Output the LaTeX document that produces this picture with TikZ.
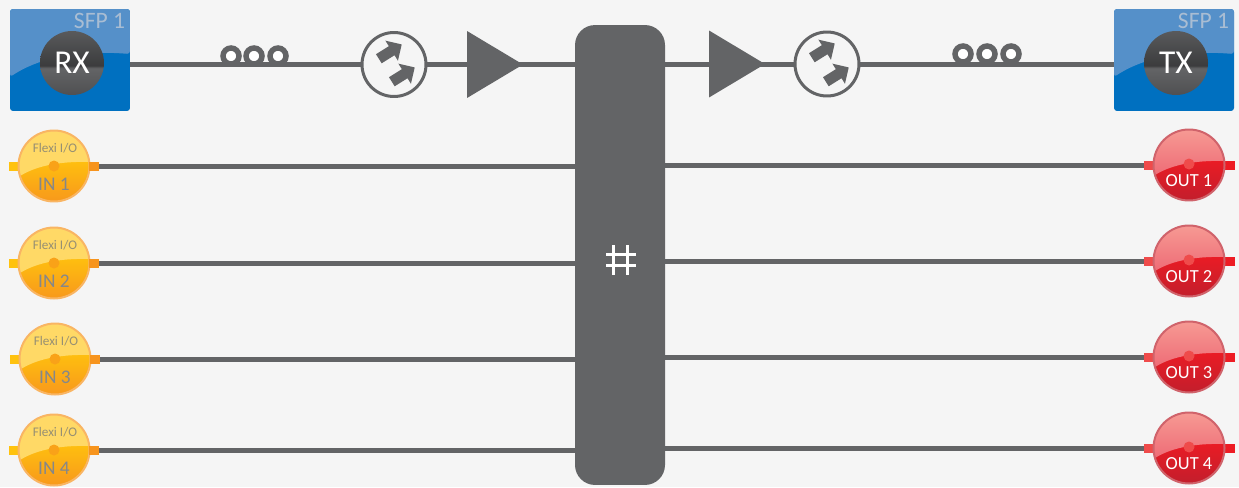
\documentclass[tikz,border=0pt]{standalone}
\usepackage{fontspec}
\setmainfont{Carlito}
\usetikzlibrary{calc, shapes.geometric, shapes.arrows}

\definecolor{pagegray}{HTML}{F5F5F5}
\definecolor{linegray}{HTML}{636466}
\definecolor{sfplight}{HTML}{5590C9}
\definecolor{sfpblue}{HTML}{0070C0}
\definecolor{sfptext}{HTML}{A9BDD3}
\definecolor{inyellow}{HTML}{FFD966}
\definecolor{inamber}{HTML}{FFC20E}
\definecolor{inorange}{HTML}{F7941D}
\definecolor{inrim}{HTML}{F9B563}
\definecolor{intext}{HTML}{85878A}
\definecolor{flexitext}{HTML}{968F73}
\definecolor{outpink}{HTML}{F79E96}
\definecolor{outrose}{HTML}{EE6A75}
\definecolor{outred}{HTML}{ED1C24}
\definecolor{outdark}{HTML}{BE1E2D}
\definecolor{outrim}{HTML}{D0636B}
\definecolor{outtab}{HTML}{EF4B4B}

\pgfdeclareverticalshading{discshade}{100bp}{color(0bp)=(linegray!80!black);
  color(25bp)=(linegray!80!black); color(46bp)=(linegray);
  color(48bp)=(linegray!60!black); color(75bp)=(linegray!90!black); color(100bp)=(linegray!90!black)}

\tikzset{
  every node/.append style = {outer sep=0},
  wire/.style = {draw=linegray, line width=0.1cm},
  sfpbox/.style = {rectangle, rounded corners=0.06cm, fill=sfpblue, inner sep=0,
    minimum width=2.4cm, minimum height=2.04cm,
    path picture = {\begin{scope}[shift={(path picture bounding box.center)}]
      \fill[sfplight] (-60,17) .. controls (-30,-3) and (10,-10) .. (60,-6)
        -- (60,-51) -- (-60,-51) -- cycle;
    \end{scope}}},
  disc/.style = {circle, shading=discshade, inner sep=0, minimum size=1.28cm,
    text=white, font=\fontsize{19}{19}\selectfont},
  sfplabel/.style = {anchor=east, inner sep=0, text=sfptext, font=\fontsize{13.4}{14}\selectfont},
  coilloop/.style = {circle, draw=linegray, fill=white, line width=0.11cm, inner sep=0, minimum size=0.32cm},
  isolator/.style = {circle, draw=linegray, fill=pagegray, line width=0.06cm, inner sep=0, minimum size=1.28cm},
  smallarrow/.style = {single arrow, fill=linegray, inner sep=0, minimum height=0.54cm,
    text height=0.2cm, text depth=0pt, text width=0pt,
    single arrow head extend=0.13cm, rotate=32},
  amp/.style = {isosceles triangle, isosceles triangle stretches, fill=linegray, inner sep=0,
    minimum width=1.34cm, minimum height=1.12cm, anchor=apex},
  inbadge/.style = {circle, draw=inrim, line width=0.04cm, inner sep=0, minimum size=1.42cm,
    path picture = {\begin{scope}[shift={(path picture bounding box.center)}]
      \shade[top color=inamber, bottom color=inorange] (-40,-8) rectangle (40,40);
      \fill[inyellow] (-37,12) .. controls (-20,0) and (5,-5) .. (37,-4)
        -- (37,-40) -- (-37,-40) -- cycle;
    \end{scope}}},
  outbadge/.style = {circle, draw=outrim, line width=0.04cm, inner sep=0, minimum size=1.42cm,
    path picture = {\begin{scope}[shift={(path picture bounding box.center)}]
      \shade[top color=outred, bottom color=outdark] (-40,-8) rectangle (40,40);
      \shade[top color=outpink, bottom color=outrose] (-37,12) .. controls (-20,0) and (5,-5) .. (37,-4)
        -- (37,-40) -- (-37,-40) -- cycle;
    \end{scope}}},
  porttab/.style = {rectangle, inner sep=0, minimum width=0.2cm, minimum height=0.18cm},
  portdot/.style = {circle, inner sep=0, minimum size=0.22cm},
  inname/.style = {inner sep=0, text=intext, font=\fontsize{11}{11}\selectfont},
  flexiname/.style = {inner sep=0, text=flexitext, font=\fontsize{7.5}{8}\selectfont},
  outname/.style = {inner sep=0, text=white, font=\fontsize{10.5}{11}\selectfont}
}

% one input port, #1 name, (#2,#3) centre, #4 number
\newcommand{\inport}[4]{
  \node[porttab, fill=inamber] (#1l) at (#2-40,#3) {};
  \node[inbadge] (#1) at (#2,#3) {};
  \node[porttab, fill=inorange] (#1r) at (#2+40,#3) {};
  \node[portdot, fill=inorange!70!inamber] (#1d) at (#2,#3) {};
  \node[flexiname] (#1f) at (#2+1,#3-18) {Flexi I/O};
  \node[inname] (#1n) at (#2,#3+18) {IN #4};
}
% one output port
\newcommand{\outport}[4]{
  \node[porttab, fill=outtab] (#1l) at (#2-40,#3) {};
  \node[porttab, fill=outred] (#1r) at (#2+41,#3) {};
  \node[outbadge] (#1) at (#2,#3) {};
  \node[portdot, fill=outtab] (#1d) at (#2,#3-1) {};
  \node[outname] (#1n) at (#2,#3+16) {OUT #4};
}

\begin{document}
\begin{tikzpicture}[x=0.02cm, y=-0.02cm]
\fill[pagegray] (0,0) rectangle (1239,487);
\useasboundingbox (0,0) rectangle (1239,487);

% top row, receive side
\node[sfpbox] (rx) at (70,60) {};
\node[sfplabel] (rxsfp) at (125,21) {SFP 1};
\node[disc] (rxdisc) at (72,63) {RX};
\node[isolator] (isoa) at (394,64.5) {};
\node[amp] (ampa) at (523,64.5) {};
\node[coilloop] (coila1) at (231,56) {};
\node[coilloop] (coila2) at (254,56) {};
\node[coilloop] (coila3) at (278,56) {};
\node[smallarrow] (isoa1) at (388,53) {};
\node[smallarrow] (isoa2) at (401,76) {};

% switch block
\node[rectangle, rounded corners=0.4cm, fill=linegray, inner sep=0,
  minimum width=1.8cm, minimum height=9.2cm] (block) at (620,255) {};
\draw[white, line width=0.06cm] (613.5,245) -- (613.5,275);
\draw[white, line width=0.06cm] (627,245) -- (627,275);
\draw[white, line width=0.06cm] (606,254.5) -- (636,254.5);
\draw[white, line width=0.06cm] (606,265) -- (636,265);

% top row, transmit side
\node[amp] (ampb) at (765,64) {};
\node[isolator] (isob) at (827,64) {};
\node[coilloop] (coilb1) at (963,54) {};
\node[coilloop] (coilb2) at (987,54) {};
\node[coilloop] (coilb3) at (1011,54) {};
\node[smallarrow] (isob1) at (821,52) {};
\node[smallarrow] (isob2) at (835,76) {};
\node[sfpbox] (tx) at (1174,60) {};
\node[sfplabel] (txsfp) at (1229,21) {SFP 1};
\node[disc] (txdisc) at (1176,63) {TX};

\draw[wire] (rx.east |- isoa.west) -- (isoa.west);
\draw[wire] (isoa.east) -- (ampa.center);
\draw[wire] (ampa.center) -- (ampa.center -| block.west);
\draw[wire] (ampb.center) -- (ampb.center -| block.east);
\draw[wire] (ampb.center) -- (isob.west);
\draw[wire] (isob.east) -- (isob.east -| tx.west);

% inputs
\inport{ina}{54}{166}{1}
\inport{inb}{54}{263}{2}
\inport{inc}{55}{359}{3}
\inport{ind}{54}{450}{4}

% outputs
\outport{outa}{1189}{165}{1}
\outport{outb}{1189}{261}{2}
\outport{outc}{1189}{357}{3}
\outport{outd}{1189}{448}{4}

\draw[wire] (inar.east) -- (inar.east -| block.west);
\draw[wire] (inbr.east) -- (inbr.east -| block.west);
\draw[wire] (incr.east) -- (incr.east -| block.west);
\draw[wire] (indr.east) -- (indr.east -| block.west);
\draw[wire] (block.east |- outal.west) -- (outal.west);
\draw[wire] (block.east |- outbl.west) -- (outbl.west);
\draw[wire] (block.east |- outcl.west) -- (outcl.west);
\draw[wire] (block.east |- outdl.west) -- (outdl.west);
\end{tikzpicture}
\end{document}
